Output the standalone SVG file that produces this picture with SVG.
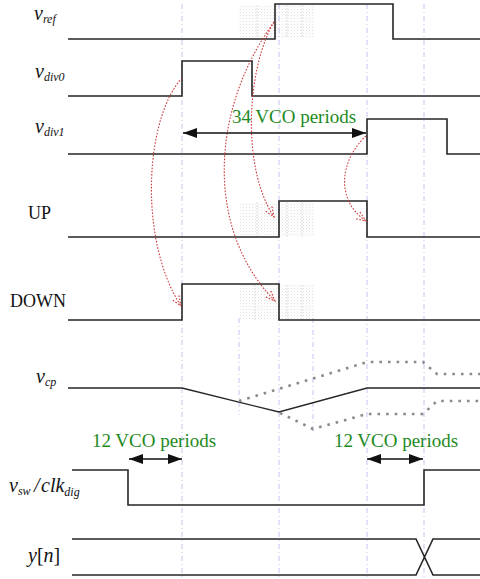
<svg xmlns="http://www.w3.org/2000/svg" width="480" height="579" viewBox="0 0 480 579">
<style>
.sig{fill:none;stroke:#262626;stroke-width:1.6;stroke-linejoin:miter}
.grid{stroke:#c4c4f2;stroke-width:1;stroke-dasharray:5,3,1,3}
.red{fill:none;stroke:#cc3a3a;stroke-width:1.1;stroke-dasharray:1.6,1.6;marker-end:url(#ra)}
.dot{fill:none;stroke:#8a8a8a;stroke-width:2.6;stroke-dasharray:2.6,6}
.meas{stroke:#111;stroke-width:1.6;marker-start:url(#ba);marker-end:url(#ba)}
.lbl{font-family:"Liberation Serif",serif;font-style:italic;font-size:20px;fill:#111}
.sub{font-size:12px}
.up{font-family:"Liberation Serif",serif;font-size:18px;fill:#111}
.grn{font-family:"Liberation Serif",serif;font-size:19px;fill:#1e8a1e}
.hatch{fill:url(#hp)}
.hl{stroke:#dedede;stroke-width:1;stroke-dasharray:2,1}
</style>
<defs>
<pattern id="hp" width="3" height="3" patternUnits="userSpaceOnUse">
<rect x="0" y="0" width="1" height="1" fill="#e2e2e2"/>
<rect x="1.5" y="1.5" width="1" height="1" fill="#eeeeee"/>
</pattern>
<marker id="ba" markerUnits="userSpaceOnUse" markerWidth="14" markerHeight="10" viewBox="0 0 14 10" refX="14" refY="5" orient="auto-start-reverse">
<path d="M0,0 L14,5 L0,10 z" fill="#111"/>
</marker>
<marker id="ra" markerUnits="userSpaceOnUse" markerWidth="12" markerHeight="10" viewBox="0 0 12 10" refX="11" refY="5" orient="auto">
<path d="M1,1 L11,5 L1,9" fill="none" stroke="#cc3a3a" stroke-width="1.1" stroke-dasharray="1.6,1.6"/>
</marker>
</defs>
<rect width="480" height="579" fill="#fff"/>

<g id="hatching">
<rect class="hatch" x="239" y="5" width="75" height="33"/>
<rect class="hatch" x="240" y="202" width="74" height="35"/>
<rect class="hatch" x="240" y="285" width="74" height="35"/>
<line class="hl" x1="257" y1="5" x2="257" y2="38"/><line class="hl" x1="287" y1="5" x2="287" y2="38"/><line class="hl" x1="302" y1="5" x2="302" y2="38"/>
<line class="hl" x1="257" y1="202" x2="257" y2="237"/><line class="hl" x1="287" y1="202" x2="287" y2="237"/><line class="hl" x1="302" y1="202" x2="302" y2="237"/>
<line class="hl" x1="255" y1="285" x2="255" y2="320"/><line class="hl" x1="287" y1="285" x2="287" y2="320"/><line class="hl" x1="302" y1="285" x2="302" y2="320"/>
</g>

<g id="gridlines">
<line class="grid" x1="182" y1="4" x2="182" y2="578"/>
<line class="grid" x1="279" y1="4" x2="279" y2="578"/>
<line class="grid" x1="367" y1="4" x2="367" y2="578"/>
<line class="grid" x1="424" y1="4" x2="424" y2="578"/>
<line class="grid" x1="239" y1="318" x2="239" y2="415"/>
<line class="grid" x1="313" y1="318" x2="313" y2="432"/>
</g>

<g id="vref">
<text class="lbl" x="34" y="20">v<tspan class="sub" dy="3">ref</tspan></text>
<path class="sig" d="M68,39 H275 V4 H393 V39 H480"/>
</g>
<g id="vdiv0">
<text class="lbl" x="35" y="78">v<tspan class="sub" dy="3">div0</tspan></text>
<path class="sig" d="M68,96 H182 V61 H252 V96 H480"/>
</g>
<g id="vdiv1">
<text class="lbl" x="35" y="133">v<tspan class="sub" dy="3">div1</tspan></text>
<path class="sig" d="M68,154 H367 V119 H447 V154 H480"/>
</g>
<g id="up">
<text class="up" x="28" y="219">UP</text>
<path class="sig" d="M68,237 H279 V201 H367 V237 H480"/>
</g>
<g id="down">
<text class="up" x="10" y="307">DOWN</text>
<path class="sig" d="M68,320 H182 V284 H279 V320 H480"/>
</g>
<g id="vcp">
<text class="lbl" x="36" y="383">v<tspan class="sub" dy="3">cp</tspan></text>
<path class="sig" style="stroke-width:1.3" d="M68,388 H182 L279,412 L367,388 H480"/>
<path class="dot" d="M239,401 L367,362 H423 L437,374 H480"/>
<path class="dot" d="M280,413 L313,429 L367,414 H423 L437,401 H480"/>
</g>
<g id="vsw">
<text class="lbl" x="9" y="492">v<tspan class="sub" dy="3">sw</tspan><tspan dy="-3" x="34">/</tspan><tspan x="41">clk</tspan><tspan class="sub" dy="4">dig</tspan></text>
<path class="sig" d="M72,470 H128 V505 H424 V470 H480"/>
</g>
<g id="yn">
<text class="lbl" x="28" y="562">y<tspan style="font-style:normal">[</tspan>n<tspan style="font-style:normal">]</tspan></text>
<path class="sig" d="M72,539 H416 L433,575 H480 M72,575 H416 L433,539 H480"/>
</g>

<g id="connectors">
<path class="red" d="M182,78 C145,118 138,240 181,306"/>
<path class="red" d="M274,22 C248,65 240,165 274,217"/>
<path class="red" d="M274,22 C210,110 205,230 275,301"/>
<path class="red" d="M366,136 C340,160 335,200 366,221"/>
<line class="meas" x1="183" y1="133" x2="366" y2="133"/>
<line class="meas" x1="129" y1="459" x2="182" y2="459"/>
<line class="meas" x1="367" y1="459" x2="423" y2="459"/>
<text class="grn" x="294" y="123" text-anchor="middle">34 VCO periods</text>
<text class="grn" x="154" y="447" text-anchor="middle">12 VCO periods</text>
<text class="grn" x="396" y="447" text-anchor="middle">12 VCO periods</text>
</g>
</svg>
